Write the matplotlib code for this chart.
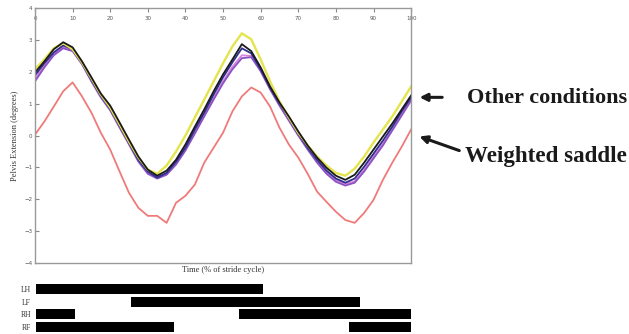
import matplotlib
matplotlib.use("Agg")
import matplotlib.pyplot as plt
import numpy as np

# --- data -------------------------------------------------------------
pct = [0, 2.5, 5, 7.5, 10, 12.5, 15, 17.5, 20, 22.5, 25, 27.5, 30, 32.5, 35,
       37.5, 40, 42.5, 45, 47.5, 50, 52.5, 55, 57.5, 60, 62.5, 65, 67.5, 70,
       72.5, 75, 77.5, 80, 82.5, 85, 87.5, 90, 92.5, 95, 97.5, 100]

yellow = [2.08, 2.39, 2.74, 2.90, 2.71, 2.30, 1.80, 1.29, 0.88, 0.35, -0.19,
          -0.69, -1.07, -1.20, -0.94, -0.50, 0.00, 0.57, 1.13, 1.70, 2.27,
          2.80, 3.21, 3.02, 2.39, 1.70, 1.07, 0.57, 0.09, -0.31, -0.66, -0.94,
          -1.17, -1.26, -1.04, -0.66, -0.22, 0.19, 0.60, 1.07, 1.54]
black = [1.98, 2.33, 2.71, 2.93, 2.77, 2.33, 1.83, 1.32, 0.94, 0.41, -0.13,
         -0.66, -1.07, -1.26, -1.10, -0.76, -0.28, 0.28, 0.82, 1.39, 1.92,
         2.39, 2.87, 2.65, 2.14, 1.54, 1.04, 0.60, 0.13, -0.31, -0.69, -1.01,
         -1.26, -1.39, -1.23, -0.85, -0.44, -0.03, 0.38, 0.82, 1.26]
navy = [1.89, 2.27, 2.61, 2.83, 2.71, 2.30, 1.76, 1.26, 0.85, 0.31, -0.22,
        -0.76, -1.13, -1.32, -1.17, -0.82, -0.38, 0.19, 0.72, 1.29, 1.83,
        2.30, 2.74, 2.58, 2.08, 1.51, 1.01, 0.57, 0.06, -0.38, -0.76, -1.10,
        -1.35, -1.48, -1.35, -0.98, -0.57, -0.16, 0.28, 0.76, 1.20]
purple = [1.70, 2.14, 2.52, 2.74, 2.65, 2.24, 1.70, 1.20, 0.79, 0.25, -0.28,
          -0.82, -1.20, -1.35, -1.23, -0.91, -0.47, 0.06, 0.60, 1.13, 1.64,
          2.08, 2.43, 2.46, 2.02, 1.45, 0.94, 0.47, 0.00, -0.44, -0.85, -1.20,
          -1.45, -1.57, -1.48, -1.13, -0.72, -0.31, 0.16, 0.63, 1.10]
magenta = [1.78, 2.20, 2.56, 2.78, 2.68, 2.26, 1.74, 1.22, 0.82, 0.28, -0.24,
           -0.78, -1.16, -1.30, -1.20, -0.88, -0.44, 0.10, 0.64, 1.18, 1.70,
           2.16, 2.52, 2.50, 2.05, 1.48, 0.97, 0.50, 0.03, -0.40, -0.80, -1.15,
           -1.40, -1.52, -1.44, -1.08, -0.66, -0.26, 0.20, 0.68, 1.15]
red = [0.03, 0.44, 0.91, 1.39, 1.67, 1.23, 0.72, 0.09, -0.44, -1.13, -1.80,
       -2.27, -2.52, -2.52, -2.74, -2.11, -1.89, -1.54, -0.85, -0.38, 0.09,
       0.76, 1.23, 1.51, 1.35, 0.91, 0.25, -0.28, -0.69, -1.20, -1.76, -2.08,
       -2.39, -2.65, -2.74, -2.43, -2.02, -1.39, -0.85, -0.35, 0.19]

xticks = [0, 10, 20, 30, 40, 50, 60, 70, 80, 90, 100]
yticks = [-4, -3, -2, -1, 0, 1, 2, 3, 4]

limbs = ["LH", "LF", "RH", "RF"]
# stance phases (start %, length %)
stance = {
    "LH": [(0.3, 60.3)],
    "LF": [(25.5, 60.9)],
    "RH": [(0.3, 10.3), (54.3, 45.7)],
    "RF": [(0.3, 36.7), (83.5, 16.5)],
}

# --- figure -----------------------------------------------------------
fig = plt.figure(figsize=(6.29, 3.34), dpi=100)
serif = ["Liberation Serif", "DejaVu Serif"]

ax = fig.add_axes([0.0556, 0.2126, 0.598, 0.763])
lw = 1.3
ax.plot(pct, red, color="#f07a7a", lw=lw)
ax.plot(pct, magenta, color="#d884dc", lw=lw)
ax.plot(pct, purple, color="#8a52c4", lw=lw)
ax.plot(pct, navy, color="#2e2e90", lw=lw)
ax.plot(pct, yellow, color="#e4e44c", lw=lw + 0.4)
ax.plot(pct, black, color="#1a1a1a", lw=lw)

ax.set_xlim(0, 100)
ax.set_ylim(-4, 4)
ax.set_xticks(xticks)
ax.set_yticks(yticks)
ax.xaxis.tick_top()
ax.tick_params(axis="x", top=True, labeltop=True, bottom=False, labelbottom=False,
               direction="in", pad=-9, length=3, color="#888888",
               labelsize=4, labelcolor="#555555")
ax.tick_params(axis="y", direction="in", length=3, pad=2, color="#888888",
               labelsize=4, labelcolor="#555555")
for s in ax.spines.values():
    s.set_color("#999999")
    s.set_linewidth(1.0)
ax.set_xlabel("Time (% of stride cycle)", fontsize=6, family=serif,
              color="#333333", labelpad=2)
ax.set_ylabel("Pelvis Extension (degrees)", fontsize=6, family=serif,
              color="#333333", labelpad=4)

# annotations
fig.text(0.742, 0.708, "Other conditions", fontsize=16, fontweight="bold",
         family=serif, va="center", ha="left", color="#1a1a1a")
fig.text(0.740, 0.530, "Weighted saddle", fontsize=16.6, fontweight="bold",
         family=serif, va="center", ha="left", color="#1a1a1a")
ax.annotate("", xy=(101.5, 1.2), xytext=(109, 1.2), xycoords="data",
            textcoords="data", annotation_clip=False,
            arrowprops=dict(arrowstyle="-|>", color="#1a1a1a", lw=2.2,
                            mutation_scale=11))
ax.annotate("", xy=(101.5, 0.0), xytext=(113.5, -0.5), xycoords="data",
            textcoords="data", annotation_clip=False,
            arrowprops=dict(arrowstyle="-|>", color="#1a1a1a", lw=2.2,
                            mutation_scale=11))

# gait diagram
bx = fig.add_axes([0.0556, 0.0, 0.598, 0.156])
for i, limb in enumerate(limbs):
    bx.broken_barh(stance[limb], (i - 0.4, 0.8), facecolors="black")
bx.set_xlim(0, 100)
bx.set_ylim(len(limbs) - 0.45, -0.55)
bx.set_yticks(range(len(limbs)))
bx.set_yticklabels(limbs, fontsize=5.5, family=serif, color="#333333")
bx.tick_params(axis="y", length=0, pad=3)
bx.set_xticks([])
for s in bx.spines.values():
    s.set_visible(False)

fig.savefig("out.png", dpi=100)
